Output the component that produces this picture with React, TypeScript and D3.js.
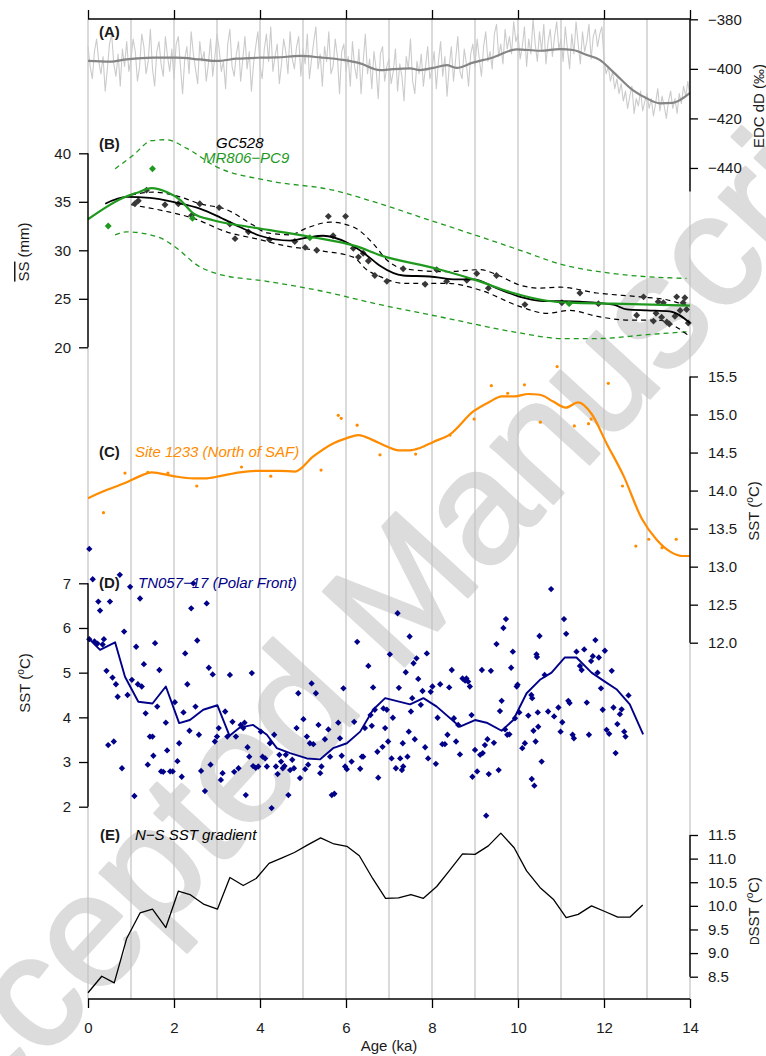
import React, { useEffect, useRef } from 'react';
import * as d3 from 'd3';

const W = 766;
const H = 1056;
const FONT = 'Liberation Sans, Arial, Helvetica, sans-serif';

// ---------- Panel A: EDC dD ----------
const edcStep = 0.05;
const edcRaw = [
  -391, -399, -404, -393, -388, -397, -402, -395, -409, -400, -390, -386, -398, -403, -394, -407, -392, -399, -389, -401,
  -396, -388, -393, -405, -399, -386, -391, -402, -397, -384, -400, -407, -393, -389, -398, -403, -387, -395, -401, -392,
  -404, -390, -387, -399, -410, -396, -391, -402, -385, -394, -400, -406, -389, -397, -393, -405, -398, -388, -403, -395,
  -386, -392, -401, -397, -408, -390, -384, -399, -403, -394, -389, -405, -396, -387, -400, -393, -409, -398, -391, -385,
  -399, -404, -392, -386, -397, -383, -401, -395, -390, -406, -398, -388, -393, -402, -385, -396, -400, -391, -387, -403,
  -392, -398, -386, -404, -396, -389, -383, -400, -394, -407, -391, -397, -385, -402, -399, -388, -395, -410, -393, -390,
  -401, -395, -407, -389, -399, -404, -392, -410, -397, -386, -402, -396, -408, -393, -400, -412, -394, -391, -405, -399,
  -396, -406, -401, -392, -409, -398, -403, -413, -395, -400, -388, -405, -410, -397, -402, -394, -407, -399, -391, -404,
  -400, -393, -408, -397, -389, -403, -395, -411, -399, -391, -405, -396, -387, -401, -404, -392, -398, -407, -394, -390,
  -399, -388, -396, -403, -391, -385, -397, -393, -400, -386, -382, -395, -390, -398, -384, -392, -387, -394, -381, -389,
  -386, -396, -391, -383, -399, -388, -394, -380, -390, -397, -385, -393, -382, -398, -389, -384, -395, -387, -381, -392,
  -388, -397, -383, -392, -400, -386, -394, -381, -390, -398, -385, -393, -389, -382, -396, -387, -384, -391, -386, -383,
  -396, -402, -399, -405, -401, -408, -404, -410, -406, -413, -409, -416, -411, -407, -418, -412, -415, -409, -417, -413,
  -410, -416, -412, -419, -414, -408, -417, -411, -415, -420, -413, -409, -416, -412, -418, -410, -414, -407, -411, -405, -412,
];
const edcSmoothAge = [0, 0.51, 0.9, 1.51, 2.06, 2.6, 2.99, 3.46, 4.0, 4.39, 4.93, 5.4, 5.93, 6.33, 6.79, 7.09, 7.49, 7.72, 8.03, 8.34, 8.57, 8.95, 9.42, 9.97, 10.51, 10.98, 11.28, 11.6, 11.9, 12.21, 12.67, 12.99, 13.3, 13.6, 14.0];
const edcSmoothVal = [-396.8, -397.1, -396.2, -395.5, -395.5, -396.2, -396.8, -395.9, -395.5, -395.4, -394.8, -395.4, -396.4, -397.8, -400.5, -400.1, -399.8, -400.5, -399.6, -398.5, -399.6, -397.5, -395.4, -392.1, -392.7, -392.0, -392.4, -394.4, -396.4, -401.2, -408.6, -411.9, -413.9, -413.7, -409.7];
const edcTicks = [-380, -400, -420, -440];

// ---------- Panel B: sortable silt ----------
const gcSmoothAge = [0.4, 0.9, 1.44, 2.06, 2.6, 3.07, 3.53, 4.0, 4.7, 5.09, 5.47, 6.02, 6.48, 6.79, 7.33, 7.95, 8.57, 8.96, 9.5, 10.05, 10.51, 11.44, 12.22, 12.53, 13.0, 13.53, 14.0];
const gcSmoothVal = [34.8, 35.5, 35.4, 34.9, 34.3, 33.4, 32.4, 31.5, 31.0, 31.3, 31.5, 30.8, 29.5, 28.4, 27.4, 27.3, 27.0, 27.0, 26.1, 25.2, 24.8, 24.7, 24.4, 23.9, 23.8, 23.7, 22.5];
const gcUpperAge = [1.0, 1.52, 2.14, 2.6, 3.22, 3.84, 4.16, 4.7, 5.09, 5.63, 6.17, 6.63, 6.95, 7.33, 8.34, 9.12, 9.5, 10.05, 10.51, 10.98, 11.83, 12.84, 13.46, 14.0];
const gcUpperVal = [35.7, 36.0, 35.5, 34.8, 34.2, 32.6, 31.8, 31.6, 32.3, 32.9, 32.4, 30.7, 29.0, 28.1, 27.8, 28.0, 27.5, 26.4, 26.1, 26.2, 25.6, 25.2, 24.9, 24.2];
const gcLowerAge = [1.0, 1.83, 2.45, 3.22, 4.0, 4.54, 5.32, 6.17, 6.48, 6.79, 7.33, 8.34, 9.12, 10.05, 10.67, 11.21, 11.83, 12.6, 13.23, 14.0];
const gcLowerVal = [34.7, 34.0, 33.3, 31.9, 31.1, 30.5, 30.0, 29.3, 28.0, 27.3, 26.6, 26.6, 25.9, 24.2, 23.5, 23.8, 23.2, 22.8, 22.8, 21.1];
const gcAge = [1.09, 1.17, 1.36, 1.79, 2.1, 2.41, 2.6, 3.05, 3.3, 3.42, 3.73, 4.22, 4.81, 5.05, 5.32, 5.59, 5.7, 5.99, 6.17, 6.29, 6.4, 6.52, 6.67, 6.95, 7.33, 7.84, 8.11, 8.34, 8.81, 9.04, 9.31, 9.5, 10.16, 11.02, 11.44, 11.87, 12.76, 12.92, 13.15, 13.21, 13.26, 13.34, 13.38, 13.46, 13.52, 13.65, 13.69, 13.77, 13.84, 13.88, 13.92, 13.96];
const gcVal = [34.8, 35.1, 36.2, 34.7, 34.8, 33.6, 34.8, 34.4, 32.7, 31.2, 31.9, 31.1, 30.9, 30.3, 30.0, 33.5, 31.5, 33.5, 30.2, 29.3, 29.7, 28.9, 27.4, 26.8, 28.1, 26.5, 28.0, 26.8, 26.9, 27.6, 26.1, 27.4, 24.4, 24.6, 25.6, 24.5, 23.3, 25.2, 22.7, 23.5, 24.7, 23.1, 24.6, 22.6, 22.4, 23.2, 25.2, 23.8, 24.6, 25.1, 23.9, 22.5];
const mrLineAge = [0, 0.86, 1.12, 1.48, 1.83, 2.14, 2.45, 2.91, 3.77, 5.16, 6.25, 6.79, 8.11, 9.04, 9.89, 10.67, 11.21, 12.21, 14.0];
const mrLineVal = [33.2, 35.5, 35.9, 36.4, 36.0, 35.2, 33.8, 33.1, 32.4, 31.4, 30.4, 29.5, 28.1, 26.9, 25.6, 24.8, 24.6, 24.5, 24.3];
const mrUpperAge = [0.63, 1.05, 1.48, 1.83, 2.3, 2.99, 4.16, 5.7, 6.79, 7.95, 9.12, 10.05, 11.05, 12.22, 13.92];
const mrUpperVal = [38.4, 39.8, 41.3, 41.4, 40.5, 38.6, 37.2, 36.2, 34.8, 33.1, 31.4, 30.0, 28.5, 27.6, 27.1];
const mrLowerAge = [0.63, 0.9, 1.67, 1.98, 2.6, 2.99, 4.16, 5.32, 6.79, 8.34, 9.89, 11.05, 11.83, 13.0, 13.92];
const mrLowerVal = [31.6, 31.9, 31.3, 30.5, 28.3, 27.6, 26.8, 25.9, 24.4, 23.0, 21.6, 20.9, 20.9, 21.3, 21.6];
const mrAge = [0.47, 1.5, 2.43, 5.16, 11.19];
const mrVal = [32.5, 38.4, 33.3, 31.3, 24.5];
const ssTicks = [20, 25, 30, 35, 40];

// ---------- Panel C: Site 1233 ----------
const c1233LineAge = [0, 0.36, 0.86, 1.25, 1.48, 1.98, 2.45, 2.72, 3.07, 3.53, 4.0, 4.47, 4.81, 5.24, 5.7, 6.02, 6.29, 6.64, 6.95, 7.22, 7.49, 7.72, 8.03, 8.42, 8.96, 9.35, 9.62, 9.93, 10.24, 10.51, 10.82, 11.11, 11.4, 11.71, 12.06, 12.45, 12.88, 13.23, 13.53, 13.81, 14.0];
const c1233LineVal = [13.9, 13.99, 14.1, 14.2, 14.24, 14.19, 14.16, 14.16, 14.19, 14.24, 14.26, 14.26, 14.25, 14.45, 14.62, 14.69, 14.73, 14.66, 14.58, 14.53, 14.53, 14.56, 14.64, 14.74, 15.04, 15.17, 15.24, 15.24, 15.27, 15.26, 15.17, 15.09, 15.16, 15.01, 14.62, 14.2, 13.63, 13.35, 13.2, 13.14, 13.14];
const c1233Age = [0.36, 0.86, 1.39, 1.86, 2.53, 3.57, 4.25, 5.42, 5.82, 5.89, 6.26, 6.79, 7.62, 8.42, 8.98, 9.38, 9.76, 10.15, 10.52, 10.91, 11.31, 11.64, 11.7, 12.1, 12.43, 12.74, 13.04, 13.35, 13.68];
const c1233Val = [13.71, 14.23, 14.24, 14.23, 14.06, 14.31, 14.19, 14.27, 14.99, 14.95, 14.86, 14.47, 14.48, 14.73, 14.94, 15.38, 15.28, 15.39, 14.9, 15.63, 14.85, 14.88, 14.94, 15.41, 14.06, 13.27, 13.36, 13.25, 13.36];
const cTicks = [12.0, 12.5, 13.0, 13.5, 14.0, 14.5, 15.0, 15.5];

// ---------- Panel D: TN057-17 ----------
const tnLineAge = [0.03, 0.28, 0.63, 0.86, 1.17, 1.5, 1.81, 2.12, 2.37, 2.68, 3.01, 3.29, 3.53, 3.84, 4.16, 4.39, 4.7, 5.09, 5.4, 5.7, 6.02, 6.33, 6.63, 6.91, 7.49, 7.8, 8.11, 8.65, 9.0, 9.27, 9.62, 9.89, 10.2, 10.51, 10.78, 11.09, 11.36, 11.71, 12.02, 12.29, 12.6, 12.91];
const tnLineVal = [5.75, 5.51, 5.68, 4.91, 4.35, 4.31, 4.69, 3.87, 3.94, 4.17, 4.27, 3.59, 3.77, 3.83, 3.61, 3.31, 3.2, 3.08, 3.06, 3.31, 3.42, 3.68, 4.17, 4.43, 4.29, 4.43, 4.24, 3.79, 3.94, 3.88, 3.7, 3.94, 4.54, 4.84, 5.0, 5.34, 5.34, 5.0, 4.8, 4.63, 4.29, 3.62];
const tnAge = [
  0.03, 0.11, 0.03, 0.15, 0.22, 0.24, 0.28, 0.34, 0.37, 0.43, 0.47, 0.51, 0.57, 0.6, 0.65, 0.69, 0.74, 0.79, 0.84, 0.92,
  0.98, 1.02, 1.08, 1.12, 1.16, 1.21, 1.25, 1.3, 1.34, 1.39, 1.44, 1.5, 1.52, 1.56, 1.61, 1.66, 1.7, 1.75, 1.81, 1.84,
  1.91, 1.97, 2.02, 2.08, 2.12, 2.18, 2.22, 2.26, 2.31, 2.36, 2.4, 2.45, 2.5, 2.54, 2.58, 2.63, 2.72, 2.76, 2.81, 2.85,
  2.9, 2.95, 3.0, 3.04, 3.09, 3.13, 3.19, 3.24, 3.3, 3.36, 3.4, 3.44, 3.5, 3.55, 3.61, 3.64, 3.67, 3.71, 3.75, 3.81,
  3.84, 3.9, 3.96, 4.02, 4.06, 4.12, 4.16, 4.23, 4.27, 4.33, 4.37, 4.41, 4.45, 4.49, 4.53, 4.57, 4.6, 4.66, 4.7, 4.75,
  4.79, 4.85, 4.89, 4.93, 5.01, 5.05, 5.09, 5.12, 5.16, 5.2, 5.24, 5.3, 5.36, 5.4, 5.43, 5.51, 5.59, 5.63, 5.67, 5.73,
  5.82, 5.86, 5.9, 5.94, 5.98, 6.02, 6.13, 6.19, 6.26, 6.33, 6.37, 6.4, 6.44, 6.52, 6.57, 6.6, 6.63, 6.67, 6.73, 6.75,
  6.85, 6.87, 6.91, 6.95, 6.98, 7.02, 7.06, 7.09, 7.16, 7.2, 7.23, 7.26, 7.3, 7.33, 7.32, 7.39, 7.43, 7.46, 7.48, 7.51,
  7.54, 7.57, 7.6, 7.64, 7.68, 7.74, 7.78, 7.84, 7.88, 7.91, 7.97, 8.01, 8.09, 8.13, 8.19, 8.24, 8.3, 8.36, 8.4, 8.46,
  8.51, 8.56, 8.61, 8.65, 8.71, 8.77, 8.8, 8.84, 8.88, 8.92, 8.94, 9.0, 9.05, 9.12, 9.16, 9.18, 9.23, 9.26, 9.29, 9.32,
  9.37, 9.44, 9.5, 9.55, 9.58, 9.62, 9.66, 9.7, 9.72, 9.75, 9.8, 9.84, 9.88, 9.93, 9.97, 9.99, 10.03, 10.1, 10.16, 10.24,
  10.31, 10.33, 10.32, 10.36, 10.38, 10.41, 10.43, 10.44, 10.46, 10.47, 10.5, 10.55, 10.62, 10.7, 10.77, 10.84, 10.94, 10.99, 11.03, 11.07,
  11.12, 11.17, 11.2, 11.27, 11.3, 11.36, 11.44, 11.48, 11.54, 11.6, 11.65, 11.7, 11.74, 11.8, 11.85, 11.88, 11.93, 11.97, 12.02, 12.06,
  12.12, 12.18, 12.22, 12.27, 12.31, 12.37, 12.41, 12.47, 12.5, 12.57,
];
const tnSst = [
  7.77, 7.09, 5.75, 5.7, 5.65, 6.59, 6.39, 5.63, 5.75, 5.04, 3.38, 6.59, 4.89, 3.46, 4.74, 4.46, 7.19, 2.86, 5.92, 4.5,
  6.92, 4.84, 2.24, 5.58, 4.74, 6.66, 4.69, 5.19, 4.09, 2.94, 3.57, 3.57, 3.14, 5.66, 4.24, 5.06, 2.79, 2.78, 3.88, 3.26,
  2.79, 2.79, 4.34, 3.02, 3.42, 2.67, 4.11, 5.43, 4.74, 3.7, 6.44, 7.0, 4.24, 5.72, 3.61, 2.8, 2.35, 6.55, 5.11, 2.94,
  4.96, 3.46, 3.57, 3.76, 2.6, 2.75, 4.13, 3.57, 4.95, 3.9, 2.78, 3.57, 2.86, 3.83, 3.76, 3.88, 2.26, 3.33, 3.12, 4.99,
  2.91, 2.87, 2.9, 3.68, 3.12, 3.08, 2.9, 3.42, 1.97, 3.61, 2.9, 2.73, 3.16, 3.01, 2.86, 2.91, 3.16, 2.26, 2.82, 3.05,
  2.86, 3.76, 4.54, 2.64, 3.96, 2.84, 3.57, 2.94, 3.42, 4.76, 3.4, 4.54, 3.83, 2.75, 2.9, 3.51, 3.73, 3.12, 2.26, 2.29,
  3.88, 3.53, 3.14, 4.65, 2.9, 2.84, 3.01, 3.9, 5.69, 2.85, 3.12, 3.12, 3.76, 5.15, 4.05, 3.81, 4.67, 4.17, 3.23, 2.65,
  3.34, 4.2, 3.76, 4.17, 3.46, 5.41, 3.08, 3.99, 2.86, 6.33, 4.66, 3.08, 2.82, 2.9, 3.42, 5.01, 3.12, 3.68, 5.81, 4.13,
  4.43, 5.21, 3.51, 5.32, 4.86, 4.28, 4.59, 3.33, 5.43, 3.08, 4.57, 4.69, 2.96, 3.99, 4.74, 3.4, 3.4, 3.61, 4.67, 5.06,
  3.98, 3.46, 3.83, 3.17, 4.87, 4.82, 4.87, 4.8, 4.69, 4.05, 2.67, 3.27, 2.79, 3.16, 5.06, 3.2, 3.38, 1.8, 3.51, 2.73,
  5.04, 3.43, 5.64, 2.82, 4.14, 4.37, 6.0, 3.73, 6.2, 3.61, 3.62, 5.11, 5.47, 3.98, 4.69, 4.73, 4.11, 3.31, 3.42, 4.04,
  4.5, 4.43, 2.62, 3.7, 2.47, 3.46, 5.41, 5.35, 4.11, 3.79, 5.82, 3.01, 4.95, 4.13, 6.87, 4.02, 4.22, 3.68, 3.89, 6.2,
  5.87, 4.37, 4.32, 3.61, 3.53, 5.47, 5.15, 5.06, 5.52, 4.33, 3.61, 5.26, 5.37, 5.73, 5.0, 5.34, 4.65, 4.17, 5.49, 3.72,
  3.63, 5.04, 4.22, 3.2, 3.85, 4.07, 4.18, 3.68, 3.57, 4.49,
];
const dTicks = [2, 3, 4, 5, 6, 7];

// ---------- Panel E: N-S SST gradient ----------
const gradAge = [0, 0.32, 0.61, 0.9, 1.21, 1.5, 1.81, 2.1, 2.37, 2.7, 3.01, 3.3, 3.61, 3.91, 4.21, 4.5, 4.8, 5.11, 5.41, 5.72, 6.02, 6.31, 6.62, 6.92, 7.22, 7.51, 7.8, 8.11, 8.4, 8.71, 9.0, 9.31, 9.6, 9.91, 10.2, 10.51, 10.82, 11.12, 11.4, 11.71, 12.02, 12.32, 12.6, 12.9];
const gradVal = [8.16, 8.51, 8.37, 9.31, 9.85, 9.93, 9.54, 10.31, 10.24, 10.03, 9.93, 10.6, 10.43, 10.58, 10.9, 11.01, 11.13, 11.29, 11.44, 11.31, 11.26, 11.06, 10.58, 10.16, 10.17, 10.24, 10.16, 10.41, 10.74, 11.1, 11.09, 11.27, 11.54, 11.23, 10.74, 10.39, 10.14, 9.75, 9.82, 10.0, 9.88, 9.76, 9.76, 10.02];
const eTicks = [8.5, 9.0, 9.5, 10.0, 10.5, 11.0, 11.5];

const ageTicks = [0, 2, 4, 6, 8, 10, 12, 14];

const GREEN = '#1f9a1f';
const ORANGE = '#ff8c00';
const NAVY = '#000088';

export default function App() {
  const ref = useRef<SVGSVGElement>(null);

  useEffect(() => {
    const svg = d3.select(ref.current);
    svg.selectAll('*').remove();
    svg.append('rect').attr('width', W).attr('height', H).attr('fill', '#fff');

    const x = d3.scaleLinear().domain([0, 14]).range([88, 690]);
    const yA = d3.scaleLinear().domain([-380, -449.5]).range([19.3, 191.5]);
    const yB = d3.scaleLinear().domain([20, 40]).range([347.3, 153.3]);
    const yC = d3.scaleLinear().domain([12, 15.5]).range([642.7, 376.5]);
    const yD = d3.scaleLinear().domain([2, 7]).range([806.7, 583.3]);
    const yE = d3.scaleLinear().domain([8.5, 11.5]).range([976.7, 835]);

    // watermark
    svg.append('text')
      .attr('transform', 'translate(-85,1200) rotate(-47.5)')
      .attr('font-family', FONT)
      .attr('font-size', 160)
      .attr('fill', '#dcdcdc')
      .attr('stroke', '#dcdcdc')
      .attr('stroke-width', 3)
      .attr('stroke-linejoin', 'round')
      .text('Accepted Manuscript');

    // vertical grid
    svg.append('g').selectAll('line').data(d3.range(0, 15)).join('line')
      .attr('x1', (d) => x(d)).attr('x2', (d) => x(d))
      .attr('y1', 19).attr('y2', 999)
      .attr('stroke', '#c2c2c2').attr('stroke-width', 1.2);

    const pairs = (a: number[], b: number[]) => a.map((v, i) => [v, b[i]] as [number, number]);
    const lineGen = (ys: d3.ScaleLinear<number, number>, curve: d3.CurveFactory = d3.curveLinear) =>
      d3.line<[number, number]>().x((d) => x(d[0])).y((d) => ys(d[1])).curve(curve);

    const drawLine = (data: [number, number][], ys: any, color: string, width: number, dash?: string, curve?: d3.CurveFactory) => {
      svg.append('path').attr('d', lineGen(ys, curve)(data) as string)
        .attr('fill', 'none').attr('stroke', color).attr('stroke-width', width)
        .attr('stroke-linejoin', 'round')
        .attr('stroke-dasharray', dash || null);
    };
    const diamond = d3.symbol().type(d3.symbolSquare);
    const drawDiamonds = (data: [number, number][], ys: any, color: string, size: number) => {
      svg.append('g').selectAll('path').data(data).join('path')
        .attr('d', diamond.size(size)() as string)
        .attr('transform', (d) => `translate(${x(d[0])},${ys(d[1])}) rotate(45)`)
        .attr('fill', color);
    };

    // Panel A
    const edcAge = edcRaw.map((_, i) => i * edcStep);
    drawLine(pairs(edcAge, edcRaw), yA, '#cbcbcb', 1.1);
    drawLine(pairs(edcSmoothAge, edcSmoothVal), yA, '#858585', 2.2, undefined, d3.curveMonotoneX);

    // Panel B
    drawLine(pairs(mrUpperAge, mrUpperVal), yB, GREEN, 1.3, '5,4', d3.curveMonotoneX);
    drawLine(pairs(mrLowerAge, mrLowerVal), yB, GREEN, 1.3, '5,4', d3.curveMonotoneX);
    drawLine(pairs(gcUpperAge, gcUpperVal), yB, '#000', 1.2, '5,4', d3.curveMonotoneX);
    drawLine(pairs(gcLowerAge, gcLowerVal), yB, '#000', 1.2, '5,4', d3.curveMonotoneX);
    drawDiamonds(pairs(gcAge, gcVal), yB, '#383838', 24);
    drawLine(pairs(gcSmoothAge, gcSmoothVal), yB, '#000', 1.8, undefined, d3.curveMonotoneX);
    drawLine(pairs(mrLineAge, mrLineVal), yB, GREEN, 2.2, undefined, d3.curveMonotoneX);
    drawDiamonds(pairs(mrAge, mrVal), yB, GREEN, 24);

    // Panel C
    drawLine(pairs(c1233LineAge, c1233LineVal), yC, ORANGE, 2.2, undefined, d3.curveMonotoneX);
    svg.append('g').selectAll('circle').data(pairs(c1233Age, c1233Val)).join('circle')
      .attr('cx', (d) => x(d[0])).attr('cy', (d) => yC(d[1])).attr('r', 1.6).attr('fill', ORANGE);

    // Panel D
    drawDiamonds(pairs(tnAge, tnSst), yD, NAVY, 20);
    drawLine(pairs(tnLineAge, tnLineVal), yD, NAVY, 1.9);

    // Panel E
    drawLine(pairs(gradAge, gradVal), yE, '#000', 1.3);

    // ---------- axes ----------
    const styleAxis = (g: d3.Selection<SVGGElement, unknown, null, undefined>) => {
      g.attr('font-family', FONT).attr('font-size', 15);
      g.select('.domain').remove();
      g.selectAll('line').attr('stroke', '#000').attr('stroke-width', 1.3);
      g.selectAll('text').attr('fill', '#1a1a1a');
    };
    const vline = (xx: number, y1: number, y2: number) =>
      svg.append('line').attr('x1', xx).attr('x2', xx).attr('y1', y1).attr('y2', y2)
        .attr('stroke', '#000').attr('stroke-width', 1.4);
    const hline = (yy: number, x1: number, x2: number) =>
      svg.append('line').attr('x1', x1).attr('x2', x2).attr('y1', yy).attr('y2', yy)
        .attr('stroke', '#000').attr('stroke-width', 1.4);

    // top axis
    const gTop = svg.append('g').attr('transform', 'translate(0,19)')
      .call(d3.axisTop(x).tickValues(ageTicks).tickSize(9).tickFormat(() => ''));
    styleAxis(gTop);
    hline(19, 88, 690);

    // bottom axis
    const gBot = svg.append('g').attr('transform', 'translate(0,999)')
      .call(d3.axisBottom(x).tickValues(ageTicks).tickSize(9).tickPadding(14).tickFormat(d3.format('d')));
    styleAxis(gBot);
    hline(999, 88, 690);

    // A right
    const gA = svg.append('g').attr('transform', 'translate(690,0)')
      .call(d3.axisRight(yA).tickValues(edcTicks).tickSize(8).tickPadding(10).tickFormat(d3.format('d')));
    styleAxis(gA);
    vline(690, 19.3, 191.5);

    // B left
    const gB = svg.append('g').attr('transform', 'translate(88,0)')
      .call(d3.axisLeft(yB).tickValues(ssTicks).tickSize(9).tickPadding(8).tickFormat(d3.format('d')));
    styleAxis(gB);
    vline(88, yB(40), yB(20));

    // C right
    const gC = svg.append('g').attr('transform', 'translate(690,0)')
      .call(d3.axisRight(yC).tickValues(cTicks).tickSize(8).tickPadding(10).tickFormat(d3.format('.1f')));
    styleAxis(gC);
    vline(690, yC(15.5), yC(12));

    // D left
    const gD = svg.append('g').attr('transform', 'translate(88,0)')
      .call(d3.axisLeft(yD).tickValues(dTicks).tickSize(9).tickPadding(8).tickFormat(d3.format('d')));
    styleAxis(gD);
    vline(88, yD(7), yD(2));

    // E right
    const gE = svg.append('g').attr('transform', 'translate(690,0)')
      .call(d3.axisRight(yE).tickValues(eTicks).tickSize(8).tickPadding(10).tickFormat(d3.format('.1f')));
    styleAxis(gE);
    vline(690, yE(11.5), yE(8.5));

    // ---------- labels ----------
    const label = (tx: number, ty: number, txt: string, opts: { bold?: boolean; italic?: boolean; color?: string } = {}) =>
      svg.append('text').attr('x', tx).attr('y', ty)
        .attr('font-family', FONT).attr('font-size', 15)
        .attr('font-weight', opts.bold ? 'bold' : 'normal')
        .attr('font-style', opts.italic ? 'italic' : 'normal')
        .attr('fill', opts.color || '#1a1a1a')
        .text(txt);

    label(99, 37, '(A)', { bold: true });
    label(99, 149, '(B)', { bold: true });
    label(99, 457, '(C)', { bold: true });
    label(99, 588, '(D)', { bold: true });
    label(100, 840, '(E)', { bold: true });

    label(216, 148, 'GC528', { italic: true, color: '#000' });
    label(203, 163, 'MR806\u2212PC9', { italic: true, color: GREEN });
    label(135, 457, 'Site 1233 (North of SAF)', { italic: true, color: ORANGE });
    label(138, 588, 'TN057\u221217 (Polar Front)', { italic: true, color: NAVY });
    label(135, 840, 'N\u2212S SST gradient', { italic: true, color: '#000' });

    // Age label
    svg.append('text').attr('x', 389).attr('y', 1051).attr('text-anchor', 'middle')
      .attr('font-family', FONT).attr('font-size', 15).attr('fill', '#1a1a1a').text('Age (ka)');

    const rot = (tx: number, ty: number) => svg.append('text')
      .attr('transform', `translate(${tx},${ty}) rotate(-90)`)
      .attr('text-anchor', 'middle').attr('font-family', FONT).attr('font-size', 15).attr('fill', '#1a1a1a');

    const ss = rot(29, 252);
    ss.append('tspan').attr('text-decoration', 'overline').text('SS');
    ss.append('tspan').text(' (mm)');

    const sstL = rot(30, 683);
    sstL.append('tspan').text('SST (');
    sstL.append('tspan').attr('font-size', 10).attr('dy', -6).text('o');
    sstL.append('tspan').attr('dy', 6).text('C)');

    rot(764, 106).text('EDC dD (\u2030)');

    const sstR = rot(759, 511);
    sstR.append('tspan').text('SST (');
    sstR.append('tspan').attr('font-size', 10).attr('dy', -6).text('o');
    sstR.append('tspan').attr('dy', 6).text('C)');

    const dsst = rot(759, 911);
    dsst.append('tspan').attr('font-size', 12).text('D');
    dsst.append('tspan').text('SST (');
    dsst.append('tspan').attr('font-size', 10).attr('dy', -6).text('o');
    dsst.append('tspan').attr('dy', 6).text('C)');
  }, []);

  return (
    <svg
      ref={ref}
      width={W}
      height={H}
      style={{ position: 'absolute', left: 0, top: 0, display: 'block' }}
    />
  );
}
